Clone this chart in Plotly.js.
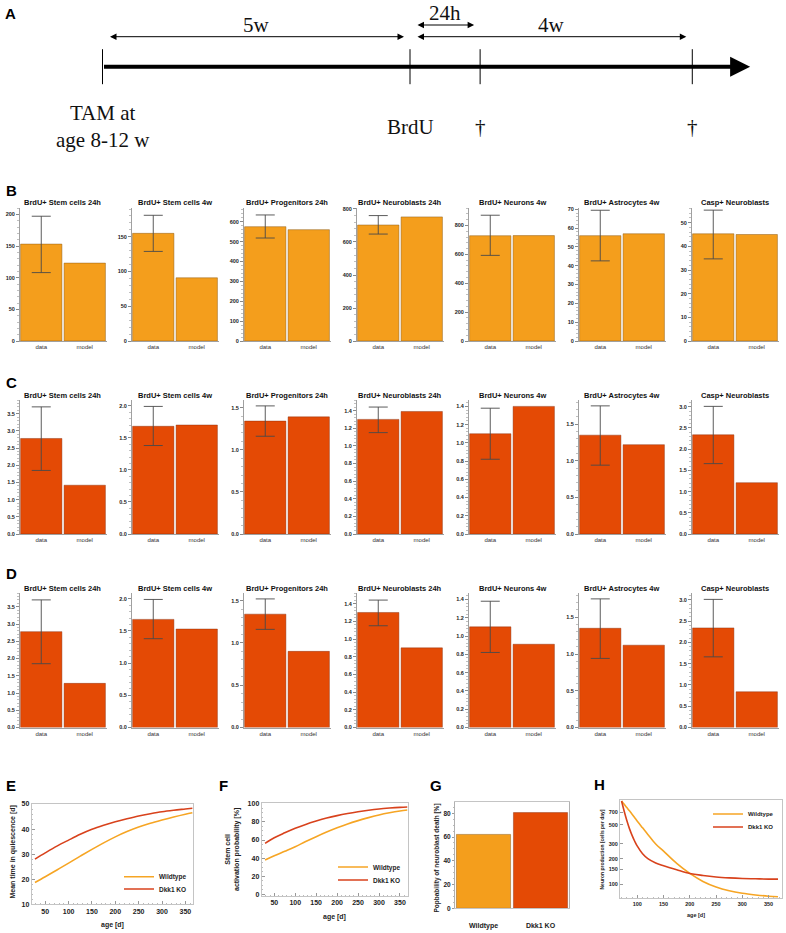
<!DOCTYPE html>
<html><head><meta charset="utf-8">
<script src="https://cdn.plot.ly/plotly-3.0.1.min.js"></script>
<style>html,body{margin:0;padding:0;background:#fff}#chart{width:786px;height:933px}</style>
</head><body><div id="chart"></div>
<script>
// ---------------- DATA ----------------
const panelTitles = ['BrdU+ Stem cells 24h', 'BrdU+ Stem cells 4w', 'BrdU+ Progenitors 24h', 'BrdU+ Neuroblasts 24h', 'BrdU+ Neurons 4w', 'BrdU+ Astrocytes 4w', 'Casp+ Neuroblasts'];
const barCategories = ['data', 'model'];

// Panel B (absolute counts)
const bData    = [153, 155, 575, 703, 729, 56, 45.3];
const bErrLow  = [108, 129, 518, 648, 593, 42.6, 34.7];
const bErrHigh = [197, 181, 634, 760, 871, 69.5, 55.3];
const bModel   = [123, 91, 560, 752, 730, 57, 45];

// Panels C & D (fold change data, shared)
const cdData    = [2.78, 1.68, 1.34, 1.30, 1.10, 1.35, 2.34];
const cdErrLow  = [1.85, 1.38, 1.16, 1.15, 0.82, 0.94, 1.66];
const cdErrHigh = [3.70, 1.99, 1.52, 1.44, 1.38, 1.75, 3.01];
const cModel    = [1.42, 1.70, 1.39, 1.39, 1.40, 1.22, 1.21];
const dModel    = [1.28, 1.53, 0.90, 0.90, 0.91, 1.12, 0.84];

// Panel E
const seriesNames = ['Wildtype', 'Dkk1 KO'];
const ageE = [28, 50, 75, 100, 125, 150, 175, 200, 225, 250, 275, 300, 325, 350, 365];
const quiescenceWT = [18.7, 21.0, 23.7, 26.4, 29.2, 31.9, 34.5, 36.9, 39.0, 40.8, 42.3, 43.6, 44.8, 45.9, 46.5];
const quiescenceKO = [28.0, 30.5, 33.2, 35.6, 37.9, 39.9, 41.5, 42.9, 44.1, 45.2, 46.1, 46.9, 47.5, 48.0, 48.3];

// Panel F
const ageF = [28, 50, 75, 100, 125, 150, 175, 200, 225, 250, 275, 300, 325, 350, 368];
const activationWT = [37.8, 42.5, 47.5, 52.6, 58.3, 63.7, 68.8, 73.5, 77.8, 81.5, 84.8, 87.8, 90.2, 92.2, 93.3];
const activationKO = [56.3, 62.5, 68.0, 73.0, 77.3, 81.0, 84.3, 87.0, 89.3, 91.3, 93.0, 94.4, 95.4, 96.2, 96.6];

// Panel G
const deathGroups = ['Wildtype', 'Dkk1 KO'];
const deathProb = [62.2, 80.6];

// Panel H
const ageH = [70, 75, 80, 85, 90, 95, 100, 110, 120, 135, 150, 175, 200, 225, 250, 275, 300, 325, 350, 368];
const neuronWT = [950, 870, 794, 727, 665, 605, 550, 460, 385, 297, 245, 176, 134, 108, 93, 84, 78.5, 75, 72.5, 71.5];
const neuronKO = [950, 720, 560, 450, 375, 320, 280, 228, 200, 178, 165, 148, 134, 127, 122, 119, 117, 116, 115, 115];

// Panel A (schematic timeline, positions in schematic units)
const timelineLabels = ['TAM at<br>age 8-12 w', 'BrdU', '†', '†'];
const timelinePos = [0, 5, 6.14, 9.59];
const timelineEnd = 10.53;
const intervalLabels = ['5w', '24h', '4w'];
const intervalStart = [0, 5, 5];
const intervalEnd = [5, 6.14, 9.59];
const intervalLevel = [1, 2, 1];

// ---------------- STYLE / LAYOUT ----------------
const W = 786, H = 933;
const px = v => v / W;
const py = v => 1 - v / H;
const sans = 'Liberation Sans, Arial, sans-serif';
const serif = 'Liberation Serif, Times New Roman, serif';
const orange = '#F49E1C', red = '#E44A05';
const wtLine = '#F6A524', koLine = '#D8421C';
const ax = n => n === 1 ? '' : String(n);

const colLeft = [19.5, 131.5, 243.5, 356.5, 468.5, 578.5, 691.5];
const colWidth = 87;
const rowTop = [208, 400, 593];
const rowBottom = [341, 534, 727.5];
const titleY = [203, 395, 588];
const rangeB = [210, 191.5, 669, 806, 921, 70.7, 56.2];
const rangeCD = [3.9, 2.09, 1.59, 1.52, 1.47, 1.83, 3.16];
const dtickB = [50, 50, 100, 200, 200, 10, 10];
const dtickCD = [0.5, 0.5, 0.5, 0.2, 0.2, 0.5, 0.5];

const traces = [];
const layout = {
  width: W, height: H, margin: {l: 0, r: 0, t: 0, b: 0},
  paper_bgcolor: '#fff', plot_bgcolor: '#fff',
  barmode: 'overlay', bargap: 0.05, hovermode: false, showlegend: true,
  font: {family: sans, color: '#222'},
  annotations: [], shapes: []
};

const rows = [
  {data: bData, lo: bErrLow, hi: bErrHigh, model: bModel, color: orange, edge: 'rgba(140,90,20,0.7)', ranges: rangeB, dticks: dtickB, fmt: 'd'},
  {data: cdData, lo: cdErrLow, hi: cdErrHigh, model: cModel, color: red, edge: 'rgba(130,40,10,0.6)', ranges: rangeCD, dticks: dtickCD, fmt: '.1f'},
  {data: cdData, lo: cdErrLow, hi: cdErrHigh, model: dModel, color: red, edge: 'rgba(130,40,10,0.6)', ranges: rangeCD, dticks: dtickCD, fmt: '.1f'}
];

rows.forEach((row, r) => {
  panelTitles.forEach((title, c) => {
    const n = r * 7 + c + 1;
    const xa = 'x' + ax(n), ya = 'y' + ax(n);
    traces.push({
      type: 'bar', x: [barCategories[0]], y: [row.data[c]], xaxis: xa, yaxis: ya, showlegend: false,
      marker: {color: row.color, line: {color: row.edge, width: 0.7}},
      error_y: {type: 'data', symmetric: false, array: [row.hi[c] - row.data[c]], arrayminus: [row.data[c] - row.lo[c]], color: '#4a4a4a', thickness: 0.9, width: 9.5}
    });
    traces.push({
      type: 'bar', x: [barCategories[1]], y: [row.model[c]], xaxis: xa, yaxis: ya, showlegend: false,
      marker: {color: row.color, line: {color: row.edge, width: 0.7}}
    });
    layout['xaxis' + ax(n)] = {
      domain: [px(colLeft[c]), px(colLeft[c] + colWidth)], anchor: ya,
      type: 'category', categoryorder: 'array', categoryarray: barCategories, range: [-0.5, 1.5],
      showline: true, linecolor: '#a0a0a0', linewidth: 1, ticks: '', showgrid: false, zeroline: false,
      tickfont: {size: 6, color: '#333', family: sans}, fixedrange: true
    };
    layout['yaxis' + ax(n)] = {
      domain: [py(rowBottom[r]), py(rowTop[r])], anchor: xa,
      range: [0, row.ranges[c]], dtick: row.dticks[c], tick0: 0, tickformat: row.fmt,
      showline: true, linecolor: '#a0a0a0', linewidth: 1, ticks: 'outside', ticklen: 2.5, tickcolor: '#888', tickwidth: 1,
      minor: {ticks: 'outside', ticklen: 1.5, dtick: row.dticks[c] / 5, tickcolor: '#b0b0b0', tickwidth: 0.8},
      showgrid: false, zeroline: false,
      tickfont: {size: 5.5, color: '#222', family: sans, weight: 'bold'}, fixedrange: true
    };
    layout.annotations.push({
      text: title, xref: 'paper', yref: 'paper', x: px(colLeft[c] + colWidth / 2), y: py(titleY[r]),
      showarrow: false, xanchor: 'center', yanchor: 'middle',
      font: {size: 7.5, color: '#111', family: sans, weight: 'bold'}
    });
  });
});

// Panel letters
[['A', 10, 13], ['B', 11, 190], ['C', 11, 382], ['D', 11, 573], ['E', 11, 785], ['F', 223, 785], ['G', 436, 785], ['H', 599, 784]].forEach(([t, x, y]) => {
  layout.annotations.push({text: t, xref: 'paper', yref: 'paper', x: px(x), y: py(y), showarrow: false,
    xanchor: 'center', yanchor: 'middle', font: {size: 15, color: '#000', family: sans, weight: 'bold'}});
});

const frameAxis = (extra) => Object.assign({
  showline: true, mirror: true, linecolor: '#c4c4c4', linewidth: 1, ticks: 'inside', ticklen: 3, tickcolor: '#999',
  showgrid: false, zeroline: false, fixedrange: true,
  tickfont: {size: 7, color: '#222', family: sans, weight: 'bold'}
}, extra);

const legendBase = (x, y, size) => ({
  x: px(x), y: py(y), xanchor: 'left', yanchor: 'middle', bgcolor: 'rgba(0,0,0,0)', borderwidth: 0,
  font: {size: size, color: '#222', family: sans, weight: 'bold'}, itemclick: false, itemdoubleclick: false
});

// Panel E (axis 22)
traces.push({type: 'scatter', mode: 'lines', x: ageE, y: quiescenceWT, xaxis: 'x22', yaxis: 'y22', name: seriesNames[0], line: {color: wtLine, width: 1.6, shape: 'spline'}, legend: 'legend'});
traces.push({type: 'scatter', mode: 'lines', x: ageE, y: quiescenceKO, xaxis: 'x22', yaxis: 'y22', name: seriesNames[1], line: {color: koLine, width: 1.6, shape: 'spline'}, legend: 'legend2'});
layout.xaxis22 = frameAxis({domain: [px(31.7), px(193.3)], anchor: 'y22', range: [21, 367], tick0: 50, dtick: 50, minor: {ticks: 'inside', ticklen: 1.5, dtick: 10, tickcolor: '#bbb'}});
layout.yaxis22 = frameAxis({domain: [py(904.3), py(804)], anchor: 'x22', range: [10, 50], dtick: 10, minor: {ticks: 'inside', ticklen: 1.5, dtick: 2, tickcolor: '#bbb'}});
layout.legend = legendBase(159 - 40, 876.7, 6.5);
layout.legend2 = legendBase(159 - 40, 889, 6.5);

// Panel F (axis 23)
traces.push({type: 'scatter', mode: 'lines', x: ageF, y: activationWT, xaxis: 'x23', yaxis: 'y23', name: seriesNames[0], line: {color: wtLine, width: 1.6, shape: 'spline'}, legend: 'legend3'});
traces.push({type: 'scatter', mode: 'lines', x: ageF, y: activationKO, xaxis: 'x23', yaxis: 'y23', name: seriesNames[1], line: {color: koLine, width: 1.6, shape: 'spline'}, legend: 'legend4'});
layout.xaxis23 = frameAxis({domain: [px(261.7), px(407.5)], anchor: 'y23', range: [20, 368], tick0: 50, dtick: 50, minor: {ticks: 'inside', ticklen: 1.5, dtick: 10, tickcolor: '#bbb'}});
layout.yaxis23 = frameAxis({domain: [py(896), py(803)], anchor: 'x23', range: [-2, 101], tick0: 0, dtick: 20, minor: {ticks: 'inside', ticklen: 1.5, dtick: 5, tickcolor: '#bbb'}});
layout.legend3 = legendBase(373 - 40, 867, 6.5);
layout.legend4 = legendBase(373 - 40, 880, 6.5);

// Panel G (axis 24)
traces.push({type: 'bar', x: [deathGroups[0]], y: [deathProb[0]], xaxis: 'x24', yaxis: 'y24', showlegend: false, marker: {color: orange, line: {color: 'rgba(140,90,20,0.7)', width: 0.7}}});
traces.push({type: 'bar', x: [deathGroups[1]], y: [deathProb[1]], xaxis: 'x24', yaxis: 'y24', showlegend: false, marker: {color: red, line: {color: 'rgba(130,40,10,0.6)', width: 0.7}}});
layout.xaxis24 = frameAxis({domain: [px(455), px(569)], anchor: 'y24', type: 'category', categoryorder: 'array', categoryarray: deathGroups, range: [-0.5, 1.5], ticks: '', ticklabelstandoff: 10});
layout.yaxis24 = frameAxis({domain: [py(908.3), py(802)], anchor: 'x24', range: [0, 89.5], dtick: 20, ticks: 'outside', ticklen: 2, linecolor: '#b0b0b0',
  tickfont: {size: 6.5, color: '#222', family: sans, weight: 'bold'}, minor: {ticks: 'outside', ticklen: 1.5, dtick: 5, tickcolor: '#bbb'}});

// Panel H (axis 25)
traces.push({type: 'scatter', mode: 'lines', x: ageH, y: neuronWT, xaxis: 'x25', yaxis: 'y25', name: seriesNames[0], line: {color: wtLine, width: 1.6, shape: 'spline'}, legend: 'legend5'});
traces.push({type: 'scatter', mode: 'lines', x: ageH, y: neuronKO, xaxis: 'x25', yaxis: 'y25', name: seriesNames[1], line: {color: koLine, width: 1.6, shape: 'spline'}, legend: 'legend6'});
layout.xaxis25 = frameAxis({domain: [px(620), px(781.7)], anchor: 'y25', range: [67, 375], tick0: 50, dtick: 50, tickfont: {size: 5.5, color: '#222', family: sans, weight: 'bold'}, minor: {ticks: 'inside', ticklen: 1.5, dtick: 10, tickcolor: '#bbb'}});
layout.yaxis25 = frameAxis({domain: [py(898.3), py(800)], anchor: 'x25', type: 'log', range: [Math.log10(68.5), Math.log10(975)], tickvals: [100, 150, 200, 300, 500, 700], tickfont: {size: 5.5, color: '#222', family: sans, weight: 'bold'}});
layout.legend5 = legendBase(748 - 40, 814, 6);
layout.legend6 = legendBase(748 - 40, 827, 6);

// Axis titles (E, F, G, H)
const axTitle = (text, x, y, angle, size) => layout.annotations.push({text, xref: 'paper', yref: 'paper', x: px(x), y: py(y), showarrow: false,
  xanchor: 'center', yanchor: 'middle', textangle: angle, font: {size, color: '#222', family: sans, weight: 'bold'}});
axTitle('Mean time in quiescence [d]', 12.5, 852, -90, 7);
axTitle('age [d]', 112, 925, 0, 7);
axTitle('Stem cell<br>activation probability [%]', 232, 849, -90, 7);
axTitle('age [d]', 334, 917, 0, 7);
axTitle('Popbability of neuroblast death [%]', 436.5, 858, -90, 6.5);
axTitle('Neuron production [cells per day]', 601.5, 850, -90, 5);
axTitle('age [d]', 696, 915, 0, 5.5);

// Panel A (axis 26) schematic timeline
const aX = 'x26', aY = 'y26';
layout.xaxis26 = {domain: [0, 1], anchor: aY, range: [-102.5 / 61.5, (786 - 102.5) / 61.5], visible: false, fixedrange: true};
layout.yaxis26 = {domain: [py(180), 1], anchor: aX, range: [-11.33, 6.67], visible: false, fixedrange: true};
const tickX = [], tickY = [];
timelinePos.forEach(p => { tickX.push(p, p, null); tickY.push(-1.75, 1.75, null); });
traces.push({type: 'scatter', mode: 'lines', x: tickX, y: tickY, xaxis: aX, yaxis: aY, showlegend: false, line: {color: '#000', width: 1}});
layout.annotations.push({xref: aX, yref: aY, axref: aX, ayref: aY, x: timelineEnd, y: 0, ax: timelinePos[0], ay: 0, text: '',
  showarrow: true, arrowhead: 2, arrowsize: 1, arrowwidth: 4, arrowcolor: '#000', standoff: 0, startstandoff: 0});
intervalLabels.forEach((lab, i) => {
  const yArr = 3.0 + (intervalLevel[i] - 1) * 1.17;
  layout.annotations.push({xref: aX, yref: aY, axref: aX, ayref: aY, x: intervalEnd[i], y: yArr, ax: intervalStart[i], ay: yArr, text: '',
    showarrow: true, arrowside: 'end+start', arrowhead: 2, arrowsize: 1.3, arrowwidth: 1, arrowcolor: '#000', standoff: 6, startstandoff: 6});
  layout.annotations.push({xref: aX, yref: aY, x: (intervalStart[i] + intervalEnd[i]) / 2, y: yArr + 1.17, text: lab, showarrow: false,
    xanchor: 'center', yanchor: 'middle', font: {size: 21, color: '#111', family: serif}});
});
timelineLabels.forEach((lab, i) => {
  layout.annotations.push({xref: aX, yref: aY, x: timelinePos[i], y: -6.0, text: lab, showarrow: false,
    xanchor: 'center', yanchor: 'middle', font: {size: 21, color: '#111', family: serif}});
});

Plotly.newPlot('chart', traces, layout, {staticPlot: true, displayModeBar: false});
</script>
</body></html>
